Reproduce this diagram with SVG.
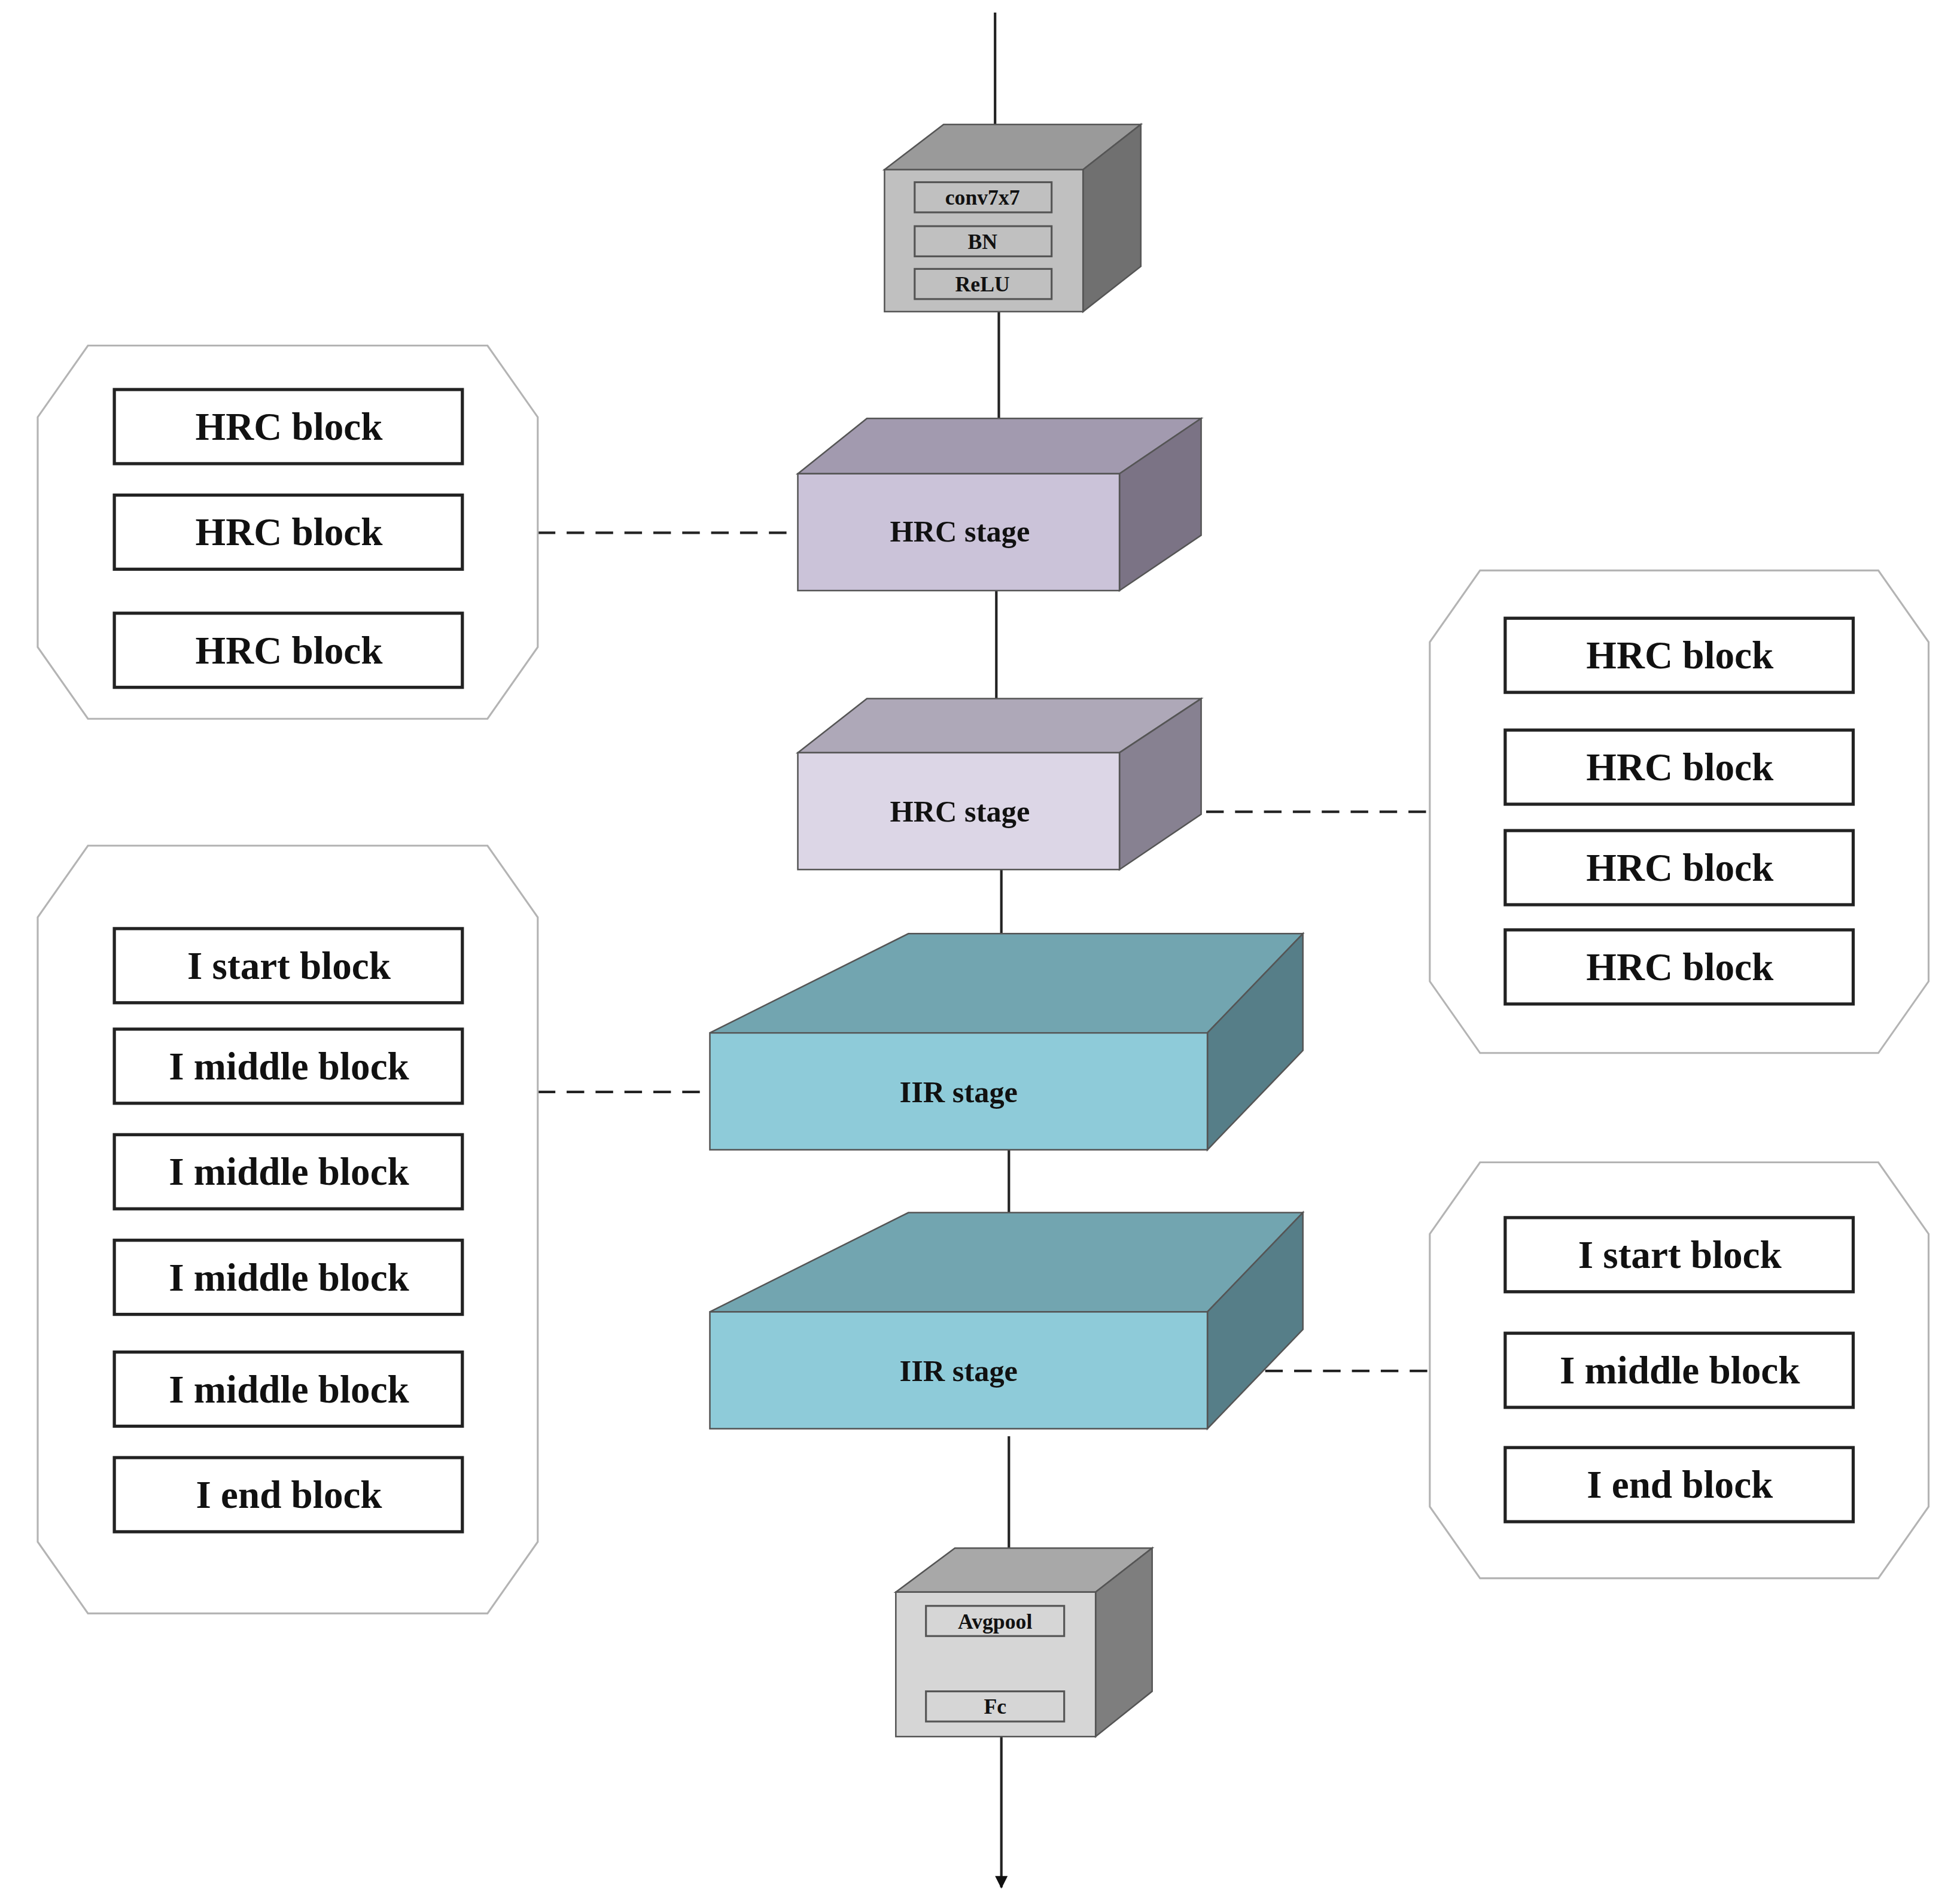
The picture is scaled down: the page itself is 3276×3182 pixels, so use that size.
<svg xmlns="http://www.w3.org/2000/svg" width="3276" height="3182" viewBox="0 0 3276 3182">
<style>
.oct{fill:#fff;stroke:#b4b4b4;stroke-width:1.5}
.blk{fill:#fff;stroke:#222;stroke-width:2.5}
.bt{font-family:"Liberation Serif",serif;font-weight:bold;font-size:31px;text-anchor:middle;fill:#111}
.st{font-family:"Liberation Serif",serif;font-weight:bold;font-size:24px;text-anchor:middle;fill:#111}
.sm{font-family:"Liberation Serif",serif;font-weight:bold;font-size:17px;text-anchor:middle;fill:#111}
.in{stroke:#555;stroke-width:1.5}
.edge{stroke:#222;stroke-width:2;fill:none}
.dash{stroke:#222;stroke-width:2;stroke-dasharray:14,9;fill:none}
.face{stroke:#555;stroke-width:1.2}
</style>
<defs>
<marker id="ah" markerWidth="10" markerHeight="10" refX="9" refY="5" orient="auto" markerUnits="userSpaceOnUse" viewBox="0 0 10 10">
<path d="M0,0 L10,5 L0,10 z" fill="#111"/>
</marker>
</defs>
<rect width="3276" height="3182" fill="#fff"/>
<g transform="scale(2.1)">
<g id="connectors">
<line class="edge" x1="792" y1="10" x2="792" y2="113" marker-end="url(#ah)" style="marker-end:url(#ah)"/>
<line class="edge" x1="795" y1="248" x2="795" y2="350" marker-end="url(#ah)"/>
<line class="edge" x1="793" y1="470" x2="793" y2="578" marker-end="url(#ah)"/>
<line class="edge" x1="797" y1="692" x2="797" y2="785" marker-end="url(#ah)"/>
<line class="edge" x1="803" y1="915" x2="803" y2="1013" marker-end="url(#ah)"/>
<line class="edge" x1="803" y1="1143" x2="803" y2="1241" marker-end="url(#ah)"/>
<line class="edge" x1="797" y1="1382" x2="797" y2="1502" marker-end="url(#ah)"/>
<line class="dash" x1="428" y1="424" x2="635" y2="424"/>
<line class="dash" x1="891" y1="646" x2="1136" y2="646"/>
<line class="dash" x1="428" y1="869" x2="565" y2="869"/>
<line class="dash" x1="961" y1="1091" x2="1138" y2="1091"/>
</g>
<g id="conv">
<polygon class="face" points="704,135 751,99 908,99 862,135" fill="#9a9a9a"/>
<polygon class="face" points="862,135 908,99 908,212 862,248" fill="#707070"/>
<rect class="face" x="704" y="135" width="158" height="113" fill="#c0c0c0"/>
<rect class="in" x="728" y="145" width="109" height="24" fill="#c0c0c0"/>
<rect class="in" x="728" y="180" width="109" height="24" fill="#c0c0c0"/>
<rect class="in" x="728" y="214" width="109" height="24" fill="#c0c0c0"/>
<text class="sm" x="782" y="163">conv7x7</text>
<text class="sm" x="782" y="198">BN</text>
<text class="sm" x="782" y="232">ReLU</text>
</g>
<g id="hrc-stage-1">
<polygon class="face" points="635,377 690,333 956,333 891,377" fill="#a29aaf"/>
<polygon class="face" points="891,377 956,333 956,426 891,470" fill="#7b7385"/>
<rect class="face" x="635" y="377" width="256" height="93" fill="#cbc3d9"/>
<text class="st" x="764" y="431">HRC stage</text>
</g>
<g id="hrc-stage-2">
<polygon class="face" points="635,599 690,556 956,556 891,599" fill="#aea8b8"/>
<polygon class="face" points="891,599 956,556 956,648 891,692" fill="#878191"/>
<rect class="face" x="635" y="599" width="256" height="93" fill="#dcd6e6"/>
<text class="st" x="764" y="654">HRC stage</text>
</g>
<g id="iir-stage-1">
<polygon class="face" points="565,822 723,743 1037,743 961,822" fill="#72a5b0"/>
<polygon class="face" points="961,822 1037,743 1037,836 961,915" fill="#567e88"/>
<rect class="face" x="565" y="822" width="396" height="93" fill="#8ecbd9"/>
<text class="st" x="763" y="877">IIR stage</text>
</g>
<g id="iir-stage-2">
<polygon class="face" points="565,1044 723,965 1037,965 961,1044" fill="#72a5b0"/>
<polygon class="face" points="961,1044 1037,965 1037,1058 961,1137" fill="#567e88"/>
<rect class="face" x="565" y="1044" width="396" height="93" fill="#8ecbd9"/>
<text class="st" x="763" y="1099">IIR stage</text>
</g>
<g id="head">
<polygon class="face" points="713,1267 760,1232 917,1232 872,1267" fill="#a8a8a8"/>
<polygon class="face" points="872,1267 917,1232 917,1346 872,1382" fill="#7e7e7e"/>
<rect class="face" x="713" y="1267" width="159" height="115" fill="#d6d6d6"/>
<rect class="in" x="737" y="1278" width="110" height="24" fill="#d6d6d6"/>
<rect class="in" x="737" y="1346" width="110" height="24" fill="#d6d6d6"/>
<text class="sm" x="792" y="1296">Avgpool</text>
<text class="sm" x="792" y="1364">Fc</text>
</g>
<g id="group-hrc-left">
<polygon class="oct" points="70,275 388,275 428,332 428,515 388,572 70,572 30,515 30,332"/>
<rect class="blk" x="91" y="310" width="277" height="59"/><text class="bt" x="230" y="350">HRC block</text>
<rect class="blk" x="91" y="394" width="277" height="59"/><text class="bt" x="230" y="434">HRC block</text>
<rect class="blk" x="91" y="488" width="277" height="59"/><text class="bt" x="230" y="528">HRC block</text>
</g>
<g id="group-hrc-right">
<polygon class="oct" points="1178,454 1495,454 1535,511 1535,781 1495,838 1178,838 1138,781 1138,511"/>
<rect class="blk" x="1198" y="492" width="277" height="59"/><text class="bt" x="1337" y="532">HRC block</text>
<rect class="blk" x="1198" y="581" width="277" height="59"/><text class="bt" x="1337" y="621">HRC block</text>
<rect class="blk" x="1198" y="661" width="277" height="59"/><text class="bt" x="1337" y="701">HRC block</text>
<rect class="blk" x="1198" y="740" width="277" height="59"/><text class="bt" x="1337" y="780">HRC block</text>
</g>
<g id="group-iir-left">
<polygon class="oct" points="70,673 388,673 428,730 428,1227 388,1284 70,1284 30,1227 30,730"/>
<rect class="blk" x="91" y="739" width="277" height="59"/><text class="bt" x="230" y="779">I start block</text>
<rect class="blk" x="91" y="819" width="277" height="59"/><text class="bt" x="230" y="859">I middle block</text>
<rect class="blk" x="91" y="903" width="277" height="59"/><text class="bt" x="230" y="943">I middle block</text>
<rect class="blk" x="91" y="987" width="277" height="59"/><text class="bt" x="230" y="1027">I middle block</text>
<rect class="blk" x="91" y="1076" width="277" height="59"/><text class="bt" x="230" y="1116">I middle block</text>
<rect class="blk" x="91" y="1160" width="277" height="59"/><text class="bt" x="230" y="1200">I end block</text>
</g>
<g id="group-iir-right">
<polygon class="oct" points="1178,925 1495,925 1535,982 1535,1199 1495,1256 1178,1256 1138,1199 1138,982"/>
<rect class="blk" x="1198" y="969" width="277" height="59"/><text class="bt" x="1337" y="1009">I start block</text>
<rect class="blk" x="1198" y="1061" width="277" height="59"/><text class="bt" x="1337" y="1101">I middle block</text>
<rect class="blk" x="1198" y="1152" width="277" height="59"/><text class="bt" x="1337" y="1192">I end block</text>
</g>
</g>
</svg>
